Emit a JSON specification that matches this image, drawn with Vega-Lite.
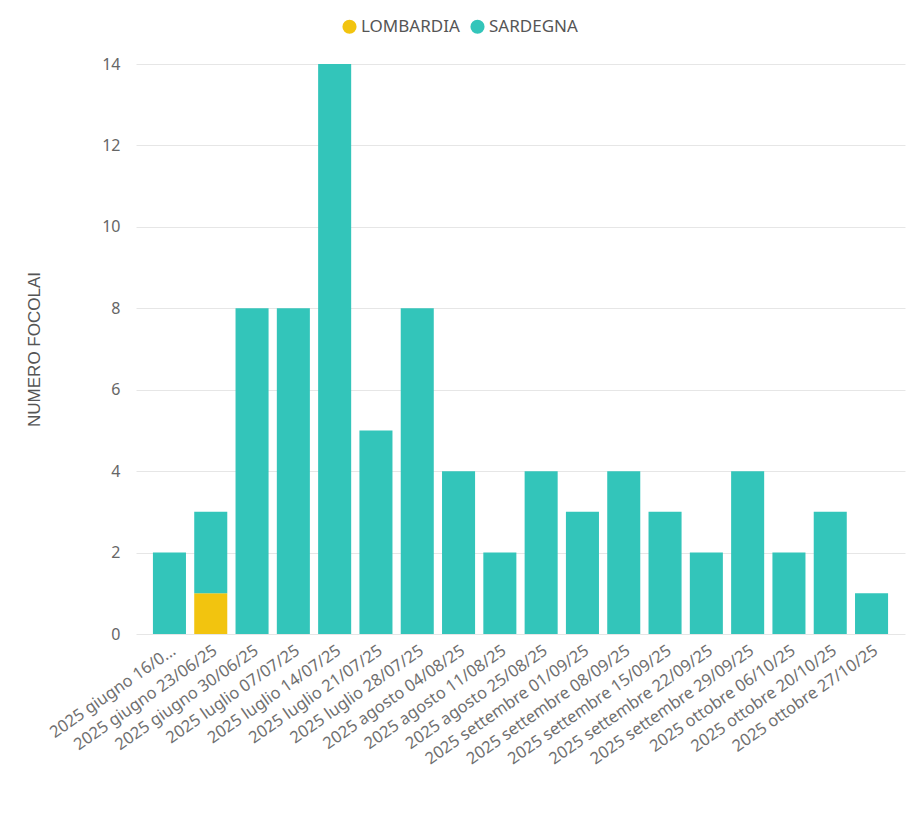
{
  "$schema": "https://vega.github.io/schema/vega-lite/v6.json",
  "width": 769,
  "height": 570,
  "autosize": "none",
  "padding": {"left": 136, "top": 64, "right": 15, "bottom": 180},
  "data": {
    "values": [
      {"settimana": "2025 giugno 16/06/25", "regione": "SARDEGNA", "focolai": 2},
      {"settimana": "2025 giugno 23/06/25", "regione": "LOMBARDIA", "focolai": 1},
      {"settimana": "2025 giugno 23/06/25", "regione": "SARDEGNA", "focolai": 2},
      {"settimana": "2025 giugno 30/06/25", "regione": "SARDEGNA", "focolai": 8},
      {"settimana": "2025 luglio 07/07/25", "regione": "SARDEGNA", "focolai": 8},
      {"settimana": "2025 luglio 14/07/25", "regione": "SARDEGNA", "focolai": 14},
      {"settimana": "2025 luglio 21/07/25", "regione": "SARDEGNA", "focolai": 5},
      {"settimana": "2025 luglio 28/07/25", "regione": "SARDEGNA", "focolai": 8},
      {"settimana": "2025 agosto 04/08/25", "regione": "SARDEGNA", "focolai": 4},
      {"settimana": "2025 agosto 11/08/25", "regione": "SARDEGNA", "focolai": 2},
      {"settimana": "2025 agosto 25/08/25", "regione": "SARDEGNA", "focolai": 4},
      {"settimana": "2025 settembre 01/09/25", "regione": "SARDEGNA", "focolai": 3},
      {"settimana": "2025 settembre 08/09/25", "regione": "SARDEGNA", "focolai": 4},
      {"settimana": "2025 settembre 15/09/25", "regione": "SARDEGNA", "focolai": 3},
      {"settimana": "2025 settembre 22/09/25", "regione": "SARDEGNA", "focolai": 2},
      {"settimana": "2025 settembre 29/09/25", "regione": "SARDEGNA", "focolai": 4},
      {"settimana": "2025 ottobre 06/10/25", "regione": "SARDEGNA", "focolai": 2},
      {"settimana": "2025 ottobre 20/10/25", "regione": "SARDEGNA", "focolai": 3},
      {"settimana": "2025 ottobre 27/10/25", "regione": "SARDEGNA", "focolai": 1}
    ]
  },
  "mark": {"type": "bar"},
  "encoding": {
    "x": {
      "field": "settimana",
      "type": "nominal",
      "sort": null,
      "title": null,
      "scale": {"paddingInner": 0.2, "paddingOuter": 0.41},
      "axis": {
        "labelAngle": -35,
        "labelAlign": "right",
        "labelBaseline": "top",
        "labelPadding": 8,
        "labelLimit": 300,
        "labelFontSize": 16.5,
        "labelColor": "#707070",
        "labelExpr": "datum.value == '2025 giugno 16/06/25' ? '2025 giugno 16/0...' : datum.value",
        "ticks": false,
        "domain": false,
        "grid": false
      }
    },
    "y": {
      "field": "focolai",
      "type": "quantitative",
      "stack": "zero",
      "title": "NUMERO FOCOLAI",
      "scale": {"domain": [0, 14], "nice": false},
      "axis": {
        "values": [0, 2, 4, 6, 8, 10, 12, 14],
        "ticks": false,
        "domain": false,
        "labelPadding": 16,
        "labelFontSize": 16,
        "titlePadding": 58,
        "gridColor": "#e6e6e6"
      }
    },
    "color": {
      "field": "regione",
      "type": "nominal",
      "title": null,
      "scale": {"domain": ["LOMBARDIA", "SARDEGNA"], "range": ["#F2C40F", "#33C5BA"]},
      "legend": {
        "orient": "none",
        "direction": "horizontal",
        "legendX": 205,
        "legendY": -46,
        "symbolType": "circle",
        "symbolSize": 200,
        "symbolOpacity": 1,
        "symbolStrokeWidth": 0,
        "labelFontSize": 17,
        "labelColor": "#555555",
        "labelOffset": 3,
        "columnPadding": 9
      }
    },
    "order": {"field": "regione", "sort": "ascending"}
  },
  "config": {
    "font": "Noto Sans",
    "view": {"stroke": null},
    "axis": {
      "labelFont": "Noto Sans",
      "labelColor": "#666666",
      "titleFont": "Liberation Sans",
      "titleFontSize": 17,
      "titleFontWeight": "normal",
      "titleColor": "#555555"
    },
    "legend": {"labelFont": "Noto Sans"}
  }
}
